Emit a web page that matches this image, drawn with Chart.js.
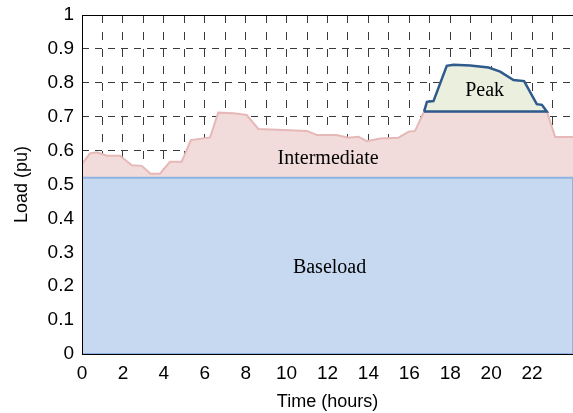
<!DOCTYPE html>
<html lang="en">
<head>
  <meta charset="UTF-8" />
  <title>Load duration</title>
  <script src="https://cdn.jsdelivr.net/npm/chart.js"></script>
  <style>
    html, body { margin: 0; padding: 0; background: #fff; overflow: hidden; }
    canvas { display: block; }
  </style>
</head>
<body>
  <canvas id="loadChart" width="573" height="413"></canvas>

  <script>
    // total load (intermediate top edge), hours vs pu
    const hours = [0, 0.39, 0.72, 1.21, 1.86, 2.43, 2.92, 3.35, 3.81, 4.3, 4.87, 5.32, 6.26, 6.66, 7.4, 8.05,
      8.62, 9.84, 10.99, 11.48, 12.13, 12.45, 13.02, 13.51, 13.92, 14.57, 15.47, 15.96, 16.28, 16.72, 22.72, 23.13, 24];
    const intermediateLoad = [0.56, 0.592, 0.595, 0.585, 0.585, 0.557, 0.555, 0.532, 0.532, 0.567, 0.567, 0.631, 0.639, 0.712, 0.71, 0.705,
      0.664, 0.661, 0.658, 0.646, 0.646, 0.646, 0.638, 0.641, 0.628, 0.636, 0.638, 0.656, 0.658, 0.715, 0.715, 0.64, 0.64];

    // peak block sitting on top of the intermediate plateau
    const peakHours = [16.72, 16.86, 17.18, 17.83, 18.16, 18.97, 19.87, 20.44, 21.09, 21.61, 22.23, 22.48, 22.72];
    const peakLoad = [0.715, 0.744, 0.746, 0.85, 0.853, 0.851, 0.845, 0.833, 0.808, 0.805, 0.737, 0.735, 0.715];

    const baseloadLevel = 0.52;
    const dayHours = [0, 24];

    const xTicks = [0, 2, 4, 6, 8, 10, 12, 14, 16, 18, 20, 22];

    const intermediatePoints = hours.map((h, i) => ({ x: h, y: intermediateLoad[i] }));
    const peakPoints = peakHours.map((h, i) => ({ x: h, y: peakLoad[i] }));
    peakPoints.push({ x: peakHours[0], y: peakLoad[0] }); // close along the base

    const basePoints = [
      { x: dayHours[0], y: 0 },
      { x: dayHours[0], y: baseloadLevel },
      { x: dayHours[1], y: baseloadLevel },
      { x: dayHours[1], y: 0 },
      { x: dayHours[0], y: 0 }
    ];

    // text labels + black frame drawn over the fills
    const areaLabels = {
      id: 'areaLabels',
      afterDatasetsDraw(chart) {
        const { ctx, chartArea, scales } = chart;
        const x = scales.x, y = scales.y;
        ctx.save();
        ctx.font = '20px "Liberation Serif", "Times New Roman", serif';
        ctx.fillStyle = '#000';
        ctx.textAlign = 'center';
        ctx.textBaseline = 'alphabetic';
        ctx.fillText('Intermediate', x.getPixelForValue(12.03), y.getPixelForValue(0.56));
        ctx.fillText('Baseload', x.getPixelForValue(12.1), y.getPixelForValue(0.24));
        ctx.fillText('Peak', x.getPixelForValue(19.68), y.getPixelForValue(0.762));

        ctx.strokeStyle = '#000';
        ctx.lineWidth = 1;
        ctx.beginPath();
        ctx.moveTo(chartArea.right, chartArea.top + 0.5);
        ctx.lineTo(chartArea.left + 0.5, chartArea.top + 0.5);
        ctx.lineTo(chartArea.left + 0.5, chartArea.bottom + 0.5);
        ctx.lineTo(chartArea.right, chartArea.bottom + 0.5);
        ctx.stroke();
        ctx.restore();
      }
    };

    const ctx = document.getElementById('loadChart').getContext('2d');
    new Chart(ctx, {
      type: 'line',
      data: {
        datasets: [
          {
            label: 'Peak',
            data: peakPoints,
            order: 0,
            borderColor: '#2e5a8c',
            borderWidth: 2.5,
            backgroundColor: '#ebf0de',
            fill: 'shape',
            pointRadius: 0,
            tension: 0
          },
          {
            label: 'Baseload',
            data: basePoints,
            order: 1,
            borderColor: '#8db4e2',
            borderWidth: 2,
            backgroundColor: '#c6d9f0',
            fill: 'shape',
            pointRadius: 0,
            tension: 0,
            segment: {
              borderColor: c => (c.p0.parsed.x === 0 && c.p1.parsed.x === 0) ? '#1a33ff' : '#8db4e2'
            }
          },
          {
            label: 'Intermediate',
            data: intermediatePoints,
            order: 2,
            borderColor: '#e6b8b7',
            borderWidth: 2,
            backgroundColor: '#f2dcdb',
            fill: 'origin',
            pointRadius: 0,
            tension: 0
          }
        ]
      },
      options: {
        responsive: false,
        animation: false,
        layout: { padding: { top: 15, right: 0, bottom: 0, left: 11 } },
        plugins: {
          legend: { display: false },
          tooltip: { enabled: false }
        },
        scales: {
          x: {
            type: 'linear',
            min: 0,
            max: 24,
            afterFit: s => { s.height = 59; s.paddingLeft = 0; s.paddingRight = 0; },
            afterBuildTicks: s => { s.ticks = Array.from({ length: 25 }, (_, i) => ({ value: i })); },
            ticks: {
              autoSkip: false,
              maxRotation: 0,
              padding: 8,
              color: '#000',
              font: { family: '"Liberation Sans", Arial, sans-serif', size: 19 },
              callback: v => xTicks.includes(v) ? String(v) : ''
            },
            grid: { color: '#3a3a3a', lineWidth: 1, drawTicks: false },
            border: { display: false, dash: [8, 9] },
            title: {
              display: true,
              text: 'Time (hours)',
              color: '#000',
              font: { family: '"Liberation Sans", Arial, sans-serif', size: 18 },
              padding: 0
            }
          },
          y: {
            min: 0,
            max: 1,
            afterFit: s => { s.width = 71; s.paddingTop = 0; s.paddingBottom = 0; },
            ticks: {
              stepSize: 0.1,
              padding: 8,
              color: '#000',
              font: { family: '"Liberation Sans", Arial, sans-serif', size: 19 },
              callback: v => String(Number(v.toFixed(1)))
            },
            grid: { color: '#3a3a3a', lineWidth: 1, drawTicks: false },
            border: { display: false, dash: [7, 6] },
            title: {
              display: true,
              text: 'Load (pu)',
              color: '#000',
              font: { family: '"Liberation Sans", Arial, sans-serif', size: 18 },
              padding: 0
            }
          }
        }
      },
      plugins: [areaLabels]
    });
  </script>
</body>
</html>
